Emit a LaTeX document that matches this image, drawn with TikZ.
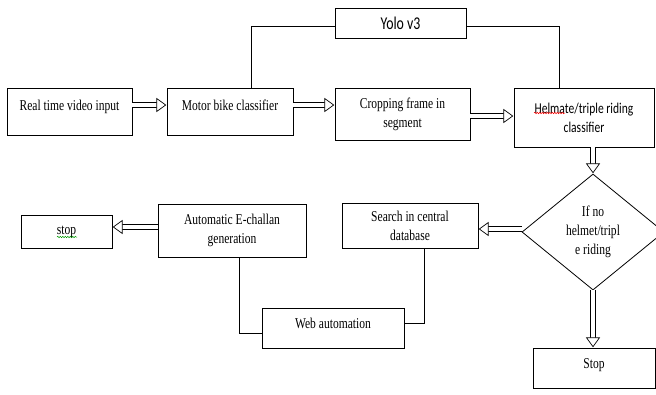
\documentclass[tikz,border=0pt]{standalone}
\usepackage{fontspec}
\setmainfont{Liberation Serif}[FakeStretch=0.77]
\newfontfamily\calfont{Carlito}[FakeStretch=0.77]
\usetikzlibrary{shapes.geometric,decorations.pathmorphing}

\begin{document}
\begin{tikzpicture}[x=1pt,y=-1pt,
    box/.style={draw, line width=0.8pt, inner sep=0pt, align=center, font=\fontsize{15}{19}\selectfont},
    dbl/.style={double, double distance=4.5pt, line width=0.7pt, shorten >=8pt},
    tip/.style={pos=1, sloped, allow upside down, anchor=apex, isosceles triangle, isosceles triangle stretches, draw, fill=white, line width=0.7pt, inner sep=0pt, minimum height=9pt, minimum width=13pt},
    link/.style={line width=0.8pt},
    squiggle/.style={decorate, decoration={snake, amplitude=0.7pt, segment length=2.5pt}, line width=0.5pt}]
    \useasboundingbox (0,0) rectangle (656,394);

    % Top row
    \node[box, minimum width=125pt, minimum height=47pt, text height=11pt, text depth=14pt] (video) at (69.5,111.5) {Real time video input};
    \node[box, minimum width=126pt, minimum height=47pt, text height=11pt, text depth=14pt] (bike) at (230,111.5) {Motor bike classifier};
    \node[box, minimum width=131pt, minimum height=30pt, font=\calfont\fontsize{18}{22}\selectfont] (yolo) at (400.5,23) {Yolo v3};
    \node[box, minimum width=135pt, minimum height=52pt] (crop) at (402.5,114) {Cropping frame in\\segment};
    \node[box, minimum width=140pt, minimum height=59pt, font=\calfont\fontsize{15}{19}\selectfont] (helm) at (584,117.5) {Helmate/triple riding\\classifier};

    % Decision
    \node[box, diamond, minimum width=142pt, minimum height=116pt] (check) at (593,232) {If no\\helmet/tripl\\e riding};
    \node[box, minimum width=122pt, minimum height=40pt, text height=11pt, text depth=11pt] (halt) at (594,368) {Stop};

    % Bottom row
    \node[box, minimum width=136pt, minimum height=45pt] (search) at (410,225.5) {Search in central\\database};
    \node[box, minimum width=148pt, minimum height=53pt] (challan) at (232,230.5) {Automatic E-challan\\generation};
    \node[box, minimum width=142pt, minimum height=40pt, text height=11pt, text depth=11pt] (web) at (333,328) {Web automation};
    \node[box, minimum width=91pt, minimum height=33pt] (endbox) at (66.5,231.5) {stop};

    % Spell-check marks
    \draw[red, squiggle] (534,113) -- (565,113);
    \draw[green!60!black, squiggle] (57,237) -- (77,237);

    % Hollow arrows
    \draw[dbl] ([yshift=6.5pt]video.east) -- ([yshift=6.5pt]bike.west) node[tip] {};
    \draw[dbl] ([yshift=6.5pt]bike.east) -- ([yshift=6.5pt]bike.east -| crop.west) node[tip] {};
    \draw[dbl] ([yshift=-2pt]crop.east) -- ([yshift=-2pt]crop.east -| helm.west) node[tip] {};
    \draw[dbl] (check.north |- helm.south) -- (check.north) node[tip] {};
    \draw[dbl] (check.south) -- (check.south |- halt.north) node[tip] {};
    \draw[dbl] ([yshift=3pt]check.west) -- ([yshift=3pt]check.west -| search.east) node[tip] {};
    \draw[dbl] ([yshift=3.5pt]challan.west) -- ([yshift=3.5pt]challan.west -| endbox.east) node[tip] {};

    % Plain links
    \draw[link] ([xshift=21pt]bike.north) |- ([yshift=-3.5pt]yolo.west);
    \draw[link] ([yshift=-3.5pt]yolo.east) -| ([xshift=-25pt]helm.north);
    \draw[link] ([xshift=14pt]search.south) |- ([yshift=5pt]web.east);
    \draw[link] ([xshift=7pt]challan.south) |- ([yshift=-5pt]web.west);
\end{tikzpicture}
\end{document}
